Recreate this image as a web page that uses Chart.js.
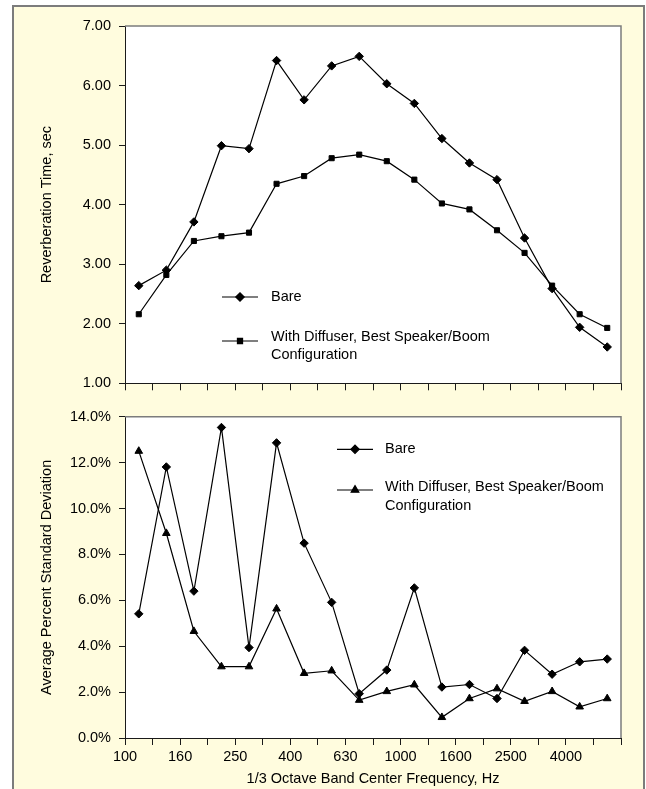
<!DOCTYPE html>
<html>
<head>
<meta charset="utf-8">
<script src="https://cdn.jsdelivr.net/npm/chart.js@4/dist/chart.umd.min.js"></script>
<style>
  html, body { margin: 0; padding: 0; background: #ffffff; }
  #page { position: relative; width: 646px; height: 789px; overflow: hidden; }
  #frame {
    position: absolute; left: 12px; top: 5px; width: 633px; height: 820px;
    box-sizing: border-box; border: 2px solid #7c7c7c; background: #fffcde;
  }
  canvas { position: absolute; left: 0; }
  #topChart { top: 0; }
  #bottomChart { top: 400px; }
</style>
</head>
<body>
<div id="page">
  <div id="frame"></div>
  <canvas id="topChart" width="646" height="400"></canvas>
  <canvas id="bottomChart" width="646" height="389"></canvas>
</div>
<script>
// 1/3 octave bands: 18 bands, every second boundary labelled
const freqTickLabels = ['100', '160', '250', '400', '630', '1000', '1600', '2500', '4000'];
const bandCount = 18;

// Reverberation time, seconds
const rtBare = [2.64, 2.90, 3.71, 4.99, 4.94, 6.42, 5.76, 6.33, 6.49, 6.03, 5.70, 5.11, 4.70, 4.42, 3.44, 2.59, 1.94, 1.61];
const rtDiffuser = [2.16, 2.82, 3.39, 3.47, 3.53, 4.35, 4.48, 4.78, 4.84, 4.73, 4.42, 4.02, 3.92, 3.57, 3.19, 2.64, 2.16, 1.93];

// Average percent standard deviation, %
const sdBare = [5.41, 11.81, 6.40, 13.53, 3.94, 12.86, 8.49, 5.91, 1.93, 2.96, 6.54, 2.22, 2.33, 1.72, 3.82, 2.78, 3.32, 3.44];
const sdDiffuser = [12.50, 8.92, 4.65, 3.11, 3.11, 5.63, 2.82, 2.93, 1.65, 2.03, 2.32, 0.90, 1.72, 2.15, 1.60, 2.03, 1.36, 1.72];

const seriesNames = ['Bare', 'With Diffuser, Best Speaker/Boom\nConfiguration'];

const FONT = 'Liberation Sans, Arial, Helvetica, sans-serif';

// each value sits in the middle of its band slot
const toPoints = arr => arr.map((v, i) => ({ x: i + 0.5, y: v }));

// white plot area with a grey frame on top/right
const plotArea = {
  id: 'plotArea',
  beforeDraw(chart) {
    const { ctx, chartArea: a } = chart;
    ctx.save();
    ctx.fillStyle = '#ffffff';
    ctx.fillRect(a.left, a.top, a.right - a.left, a.bottom - a.top);
    ctx.restore();
  },
  beforeDatasetsDraw(chart) {
    const { ctx, chartArea: a } = chart;
    ctx.save();
    ctx.strokeStyle = '#7c7c7c';
    ctx.lineWidth = 1.5;
    ctx.beginPath();
    ctx.moveTo(a.left, a.top);
    ctx.lineTo(a.right, a.top);
    ctx.lineTo(a.right, a.bottom);
    ctx.stroke();
    ctx.restore();
  }
};

// legend drawn inside the plot area, reusing each dataset's own styling
const innerLegend = {
  id: 'innerLegend',
  afterDatasetsDraw(chart, args, opts) {
    const { ctx, chartArea: a } = chart;
    ctx.save();
    ctx.font = opts.fontSize + 'px ' + FONT;
    ctx.fillStyle = '#000';
    ctx.textBaseline = 'middle';
    chart.data.datasets.forEach((ds, i) => {
      const row = opts.rows[i];
      const y = a.top + row.lineY;
      const x0 = a.left + opts.lineX0, x1 = a.left + opts.lineX1;
      ctx.strokeStyle = ds.borderColor;
      ctx.lineWidth = ds.borderWidth;
      ctx.beginPath();
      ctx.moveTo(x0, y);
      ctx.lineTo(x1, y);
      ctx.stroke();
      Chart.helpers.drawPoint(ctx, {
        pointStyle: ds.pointStyle, radius: ds.pointRadius, borderWidth: 1, rotation: 0
      }, (x0 + x1) / 2, y);
      ctx.fillStyle = '#000';
      ds.label.split('\n').forEach((line, k) => {
        ctx.fillText(line, a.left + opts.textX, a.top + row.textY + k * opts.lineGap);
      });
    });
    ctx.restore();
  }
};

function lineDataset(label, values, style, radius) {
  return {
    label,
    data: toPoints(values),
    borderColor: '#000',
    backgroundColor: '#000',
    borderWidth: 1.2,
    pointStyle: style,
    pointRadius: radius,
    pointBorderWidth: 1,
    pointBackgroundColor: '#000',
    pointBorderColor: '#000',
    tension: 0
  };
}

function xScale(showLabels, height, title) {
  return {
    type: 'linear',
    min: 0,
    max: bandCount,
    afterFit(s) { s.height = height; },
    afterBuildTicks(s) {
      s.ticks = [];
      for (let i = 0; i <= bandCount; i++) s.ticks.push({ value: i });
    },
    border: { display: true, color: '#1a1a1a', width: 1 },
    grid: { drawOnChartArea: false, drawTicks: true, tickLength: 7, color: '#1a1a1a', tickColor: '#1a1a1a' },
    ticks: {
      display: showLabels,
      autoSkip: false,
      maxRotation: 0,
      padding: 3,
      color: '#000',
      font: { family: FONT, size: 14.5 },
      callback: v => (v % 2 === 0 && v < bandCount) ? freqTickLabels[v / 2] : ''
    },
    title: title ? {
      display: true,
      text: title,
      color: '#000',
      font: { family: FONT, size: 14.5 },
      padding: { top: 0, bottom: 1 }
    } : { display: false }
  };
}

function yScale(min, max, step, fmt, title) {
  return {
    type: 'linear',
    min, max,
    afterFit(s) { s.width = 125; },
    afterBuildTicks(s) {
      s.ticks = [];
      for (let v = min; v <= max + 1e-9; v += step) s.ticks.push({ value: v });
    },
    border: { display: true, color: '#1a1a1a', width: 1 },
    grid: { drawOnChartArea: false, drawTicks: true, tickLength: 6, color: '#1a1a1a', tickColor: '#1a1a1a' },
    ticks: {
      padding: 8,
      color: '#000',
      font: { family: FONT, size: 14.5 },
      callback: fmt
    },
    title: {
      display: true,
      text: title,
      color: '#000',
      font: { family: FONT, size: 14.5 },
      padding: { top: 38, bottom: 0 }
    }
  };
}

const common = {
  responsive: false,
  animation: false,
  devicePixelRatio: 1,
  plugins: { legend: { display: false }, tooltip: { enabled: false } }
};

new Chart(document.getElementById('topChart'), {
  type: 'line',
  data: {
    datasets: [
      lineDataset(seriesNames[0], rtBare, 'rectRot', 4.2),
      lineDataset(seriesNames[1], rtDiffuser, 'rect', 3.6)
    ]
  },
  options: {
    ...common,
    layout: { padding: { left: 0, top: 26, right: 25, bottom: 0 } },
    scales: {
      x: xScale(false, 14, null),
      y: yScale(1, 7, 1, v => v.toFixed(2), 'Reverberation Time, sec')
    },
    plugins: {
      ...common.plugins,
      innerLegend: {
        fontSize: 14.5,
        lineX0: 97, lineX1: 133, textX: 146, lineGap: 17.5,
        rows: [{ lineY: 271, textY: 271 }, { lineY: 315, textY: 311 }]
      }
    }
  },
  plugins: [plotArea, innerLegend]
});

new Chart(document.getElementById('bottomChart'), {
  type: 'line',
  data: {
    datasets: [
      lineDataset(seriesNames[0], sdBare, 'rectRot', 4.2),
      lineDataset(seriesNames[1], sdDiffuser, 'triangle', 4.4)
    ]
  },
  options: {
    ...common,
    layout: { padding: { left: 0, top: 12, right: 25, bottom: 0 } },
    scales: {
      x: xScale(true, 51, '1/3 Octave Band Center Frequency, Hz'),
      y: yScale(0, 14, 2, v => v.toFixed(1) + '%', 'Average Percent Standard Deviation')
    },
    plugins: {
      ...common.plugins,
      innerLegend: {
        fontSize: 14.5,
        lineX0: 212, lineX1: 248, textX: 260, lineGap: 18.5,
        rows: [{ lineY: 32.6, textY: 32.6 }, { lineY: 73.3, textY: 70.6 }]
      }
    }
  },
  plugins: [plotArea, innerLegend]
});
</script>
</body>
</html>
